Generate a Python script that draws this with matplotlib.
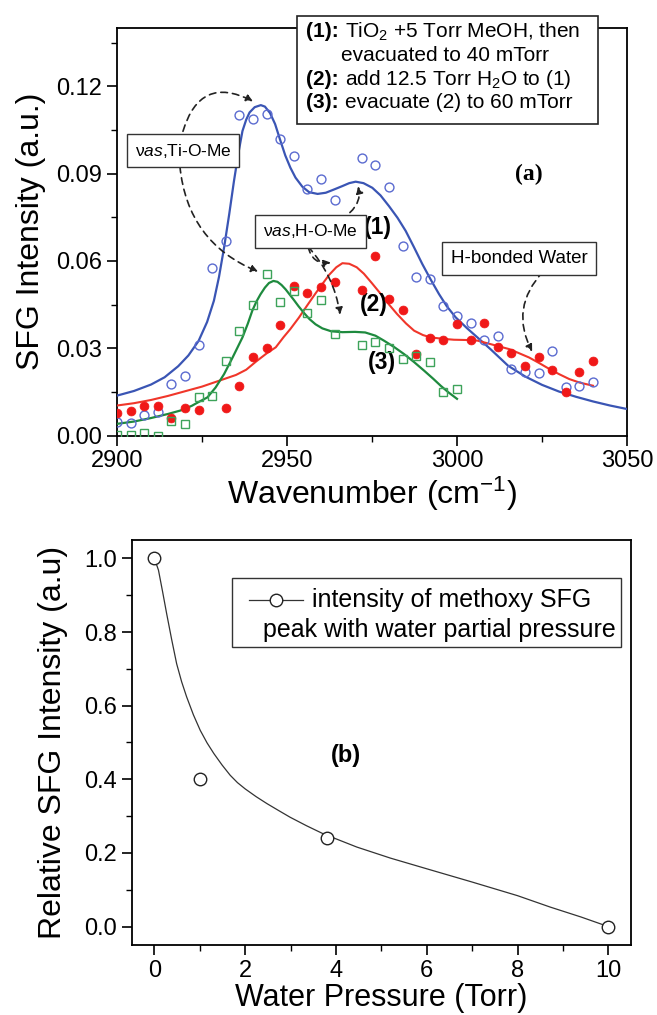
import matplotlib
matplotlib.use("Agg")
import matplotlib.pyplot as plt
from matplotlib.patches import Rectangle
from matplotlib.lines import Line2D
from matplotlib.ticker import MultipleLocator, FormatStrFormatter

plt.rcParams['font.family'] = ['Liberation Sans', 'DejaVu Sans']
plt.rcParams['mathtext.fontset'] = 'custom'
plt.rcParams['mathtext.rm'] = 'Liberation Sans'
plt.rcParams['mathtext.it'] = 'Liberation Sans:italic'
plt.rcParams['mathtext.bf'] = 'Liberation Sans:bold'

# ---- (a) SFG spectra: measured points ----
wn_1 = [2900, 2904, 2908, 2912, 2916, 2920, 2924, 2928, 2932, 2936, 2940, 2944,
        2948, 2952, 2956, 2960, 2964, 2972, 2976, 2980, 2984, 2988, 2992, 2996,
        3000, 3004, 3008, 3012, 3016, 3020, 3024, 3028, 3032, 3036, 3040]
sfg_1 = [0.0046, 0.0042, 0.0071, 0.0080, 0.0177, 0.0206, 0.0311, 0.0574, 0.0669,
         0.1100, 0.1088, 0.1106, 0.1017, 0.0960, 0.0848, 0.0880, 0.0808, 0.0952,
         0.0931, 0.0855, 0.0651, 0.0546, 0.0539, 0.0446, 0.0411, 0.0385, 0.0328,
         0.0343, 0.0229, 0.0217, 0.0215, 0.0289, 0.0168, 0.0171, 0.0185]

wn_2 = [2900, 2904, 2908, 2912, 2916, 2920, 2924, 2932, 2936, 2940, 2944, 2948,
        2952, 2956, 2960, 2964, 2972, 2976, 2980, 2984, 2988, 2992, 2996, 3000,
        3004, 3008, 3012, 3016, 3020, 3024, 3028, 3032, 3036, 3040]
sfg_2 = [0.0078, 0.0085, 0.0103, 0.0103, 0.0059, 0.0094, 0.0088, 0.0093, 0.0171,
         0.0270, 0.0300, 0.0380, 0.0515, 0.0490, 0.0510, 0.0528, 0.0499, 0.0617,
         0.0470, 0.0431, 0.0280, 0.0334, 0.0328, 0.0383, 0.0329, 0.0385, 0.0303,
         0.0283, 0.0240, 0.0271, 0.0226, 0.0151, 0.0217, 0.0255]

wn_3 = [2900, 2904, 2908, 2912, 2916, 2920, 2924, 2928, 2932, 2936, 2940, 2944,
        2948, 2952, 2956, 2960, 2964, 2972, 2976, 2980, 2984, 2988, 2992, 2996, 3000]
sfg_3 = [0.0003, 0.0003, 0.0009, 0.0000, 0.0049, 0.0038, 0.0131, 0.0135, 0.0255,
         0.0360, 0.0450, 0.0556, 0.0458, 0.0496, 0.0420, 0.0465, 0.0350, 0.0310,
         0.0322, 0.0301, 0.0263, 0.0274, 0.0251, 0.0148, 0.0160]

# ---- (a) fitted curves ----
fit_wn_1 = [2900, 2905, 2910, 2914, 2918, 2921, 2924, 2926.5, 2928.5, 2930, 2931.5,
            2933, 2934.4, 2935.7, 2936.9, 2938, 2939, 2940.5, 2942.3, 2943.5, 2945,
            2946.5, 2948, 2949.5, 2951, 2952.5, 2954.5, 2956.5, 2959, 2961.4, 2964,
            2966.3, 2968.3, 2970.2, 2972.5, 2975.1, 2977.5, 2980, 2982.5, 2984.9,
            2987.3, 2989.8, 2992.3, 2994.7, 2997, 2999.6, 3003, 3006, 3010, 3015,
            3020, 3025, 3030, 3035, 3040, 3045, 3050]
fit_1 = [0.0137, 0.0153, 0.0175, 0.0200, 0.0238, 0.0275, 0.0325, 0.0390, 0.0463, 0.0545,
         0.0646, 0.0760, 0.0874, 0.0970, 0.1046, 0.1085, 0.1110, 0.1128, 0.1135, 0.1130,
         0.1108, 0.1070, 0.1015, 0.0962, 0.0920, 0.0886, 0.0855, 0.0836, 0.0830, 0.0834,
         0.0846, 0.0857, 0.0867, 0.0872, 0.0867, 0.0851, 0.0825, 0.0788, 0.0748, 0.0703,
         0.0648, 0.0589, 0.0535, 0.0486, 0.0444, 0.0406, 0.0368, 0.0337, 0.0295, 0.0240,
         0.0203, 0.0174, 0.0151, 0.0133, 0.0117, 0.0103, 0.0091]

fit_wn_2 = [2900, 2905, 2910, 2915, 2920, 2925, 2930, 2935, 2938, 2941, 2944, 2946.7,
            2949, 2951, 2953.5, 2956, 2958.5, 2960.5, 2962.4, 2964.5, 2966.3, 2968.3,
            2970.5, 2972.6, 2975, 2977.6, 2980, 2982.4, 2985, 2987.4, 2990, 2992.3,
            2996, 2999.1, 3003, 3006, 3010.5, 3015.3, 3018, 3021.2, 3024, 3027.1,
            3030, 3033, 3036, 3040]
fit_2 = [0.0103, 0.0111, 0.0122, 0.0136, 0.0152, 0.0168, 0.0188, 0.0208, 0.0226, 0.0255,
         0.0282, 0.0303, 0.0338, 0.0366, 0.0405, 0.0448, 0.0490, 0.0522, 0.0552, 0.0578,
         0.0592, 0.0590, 0.0578, 0.0556, 0.0523, 0.0486, 0.0450, 0.0417, 0.0385, 0.0360,
         0.0345, 0.0337, 0.0332, 0.0329, 0.0328, 0.0326, 0.0312, 0.0297, 0.0284, 0.0268,
         0.0250, 0.0229, 0.0211, 0.0194, 0.0182, 0.0171]

fit_wn_3 = [2900, 2905, 2910, 2915, 2918.7, 2922, 2924, 2926.6, 2929, 2931.5, 2934,
            2936.9, 2938.5, 2939.8, 2941, 2942.2, 2943.5, 2944.7, 2946, 2947.2, 2948.4,
            2949.6, 2950.8, 2952, 2953.4, 2955, 2956.6, 2958.4, 2960.4, 2963, 2966.3,
            2970, 2973, 2976, 2978.5, 2981.5, 2984.4, 2987.4, 2990.3, 2993, 2995.2,
            2997.5, 3000]
fit_3 = [0.0040, 0.0048, 0.0060, 0.0074, 0.0086, 0.0102, 0.0115, 0.0131, 0.0165, 0.0211,
         0.0268, 0.0337, 0.0385, 0.0429, 0.0460, 0.0485, 0.0508, 0.0524, 0.0531, 0.0528,
         0.0517, 0.0502, 0.0484, 0.0466, 0.0444, 0.0421, 0.0400, 0.0382, 0.0368, 0.0358,
         0.0355, 0.0356, 0.0354, 0.0343, 0.0326, 0.0304, 0.0280, 0.0252, 0.0223, 0.0195,
         0.0171, 0.0148, 0.0126]

# ---- (b) relative intensity vs water pressure ----
pressure = [0, 1, 3.8, 10]
rel_int = [1.0, 0.40, 0.24, 0.0]
fit_p = [0, 0.09, 0.18, 0.27, 0.38, 0.49, 0.6, 0.71, 0.86, 1.01, 1.16, 1.31, 1.49,
         1.67, 1.83, 2.0, 2.24, 2.48, 2.74, 2.99, 3.35, 3.72, 4.09, 4.46, 5.2, 6.0,
         7.0, 8.0, 8.72, 9.4, 10]
fit_rel = [1.0, 0.968, 0.91, 0.850, 0.78, 0.714, 0.665, 0.624, 0.575, 0.533, 0.499,
           0.470, 0.439, 0.411, 0.391, 0.374, 0.353, 0.334, 0.315, 0.297, 0.274, 0.252,
           0.234, 0.216, 0.186, 0.157, 0.121, 0.084, 0.053, 0.026, 0.0]

W, H = 657, 1015
fig = plt.figure(figsize=(W / 100, H / 100), dpi=100)

def fx(px):
    return px / W

def fy(py):
    return 1 - py / H

ax1 = fig.add_axes([fx(117), fy(435.5), 510 / W, 407.5 / H])
ax2 = fig.add_axes([fx(131.7), fy(945), 499.3 / W, 405 / H])

blue_l, blue_p = '#3a55b4', '#5b6bd0'
red_l, red_p = '#f0362a', '#f01818'
green_l, green_p = '#1e8a3e', '#3da35a'

ax1.plot(fit_wn_1, fit_1, color=blue_l, lw=1.6, zorder=3)
ax1.plot(fit_wn_2, fit_2, color=red_l, lw=1.5, zorder=3)
ax1.plot(fit_wn_3, fit_3, color=green_l, lw=1.6, zorder=3)
ax1.plot(wn_1, sfg_1, 'o', mfc='none', mec=blue_p, ms=6.4, mew=1.0, zorder=4)
ax1.plot(wn_2, sfg_2, 'o', mfc=red_p, mec=red_p, ms=6.4, mew=0.5, zorder=4)
ax1.plot(wn_3, sfg_3, 's', mfc='none', mec=green_p, ms=5.8, mew=1.0, zorder=4)

ax1.set_xlim(2900, 3050)
ax1.set_ylim(0, 0.14)
ax1.xaxis.set_major_locator(MultipleLocator(50))
ax1.xaxis.set_minor_locator(MultipleLocator(25))
ax1.yaxis.set_major_locator(MultipleLocator(0.03))
ax1.yaxis.set_minor_locator(MultipleLocator(0.015))
ax1.yaxis.set_major_formatter(FormatStrFormatter('%.2f'))
ax1.set_yticks([0, 0.03, 0.06, 0.09, 0.12])

ax1.set_xlabel('Wavenumber (cm$^{-1}$)', fontsize=23)
ax1.set_ylabel('SFG Intensity (a.u.)', fontsize=23)
ax1.xaxis.set_label_coords(0.5, -0.095)
ax1.yaxis.set_label_coords(-0.14, 0.5)

# annotation boxes
box = dict(boxstyle='square,pad=0.45', fc='white', ec='#333333', lw=1.0)
ax1.text(2919.4, 0.0979, r'ν$\mathit{as}$,Ti-O-Me', fontsize=12.5, ha='center',
         va='center', bbox=box, zorder=6)
ax1.text(2956.9, 0.0701, r'ν$\mathit{as}$,H-O-Me', fontsize=12.5, ha='center',
         va='center', bbox=box, zorder=6)
ax1.text(3018.2, 0.0608, 'H-bonded Water', fontsize=13.5, ha='center',
         va='center', bbox=box, zorder=6)

arrows = [((2919.4, 0.1045), (2940.0, 0.1148), -0.6),
          ((2918.5, 0.0925), (2941.5, 0.0563), 0.3),
          ((2968.5, 0.0766), (2970.9, 0.0856), 0.3),
          ((2956.2, 0.0649), (2962.9, 0.0594), 0.45),
          ((2956.2, 0.0649), (2965.6, 0.0415), -0.15),
          ((3025.3, 0.0563), (3022.1, 0.0288), 0.35)]
for start, end, rad in arrows:
    ax1.annotate('', xy=end, xytext=start, zorder=5,
                 arrowprops=dict(arrowstyle='-|>', connectionstyle='arc3,rad=%s' % rad,
                                 linestyle=(0, (4, 3)), lw=1.2, color='#222222',
                                 shrinkA=0, shrinkB=0, mutation_scale=10))

ax1.text(2976.8, 0.0716, '(1)', fontsize=16.5, fontweight='bold', ha='center', va='center')
ax1.text(2975.6, 0.0450, '(2)', fontsize=16.5, fontweight='bold', ha='center', va='center')
ax1.text(2977.9, 0.0251, '(3)', fontsize=16.5, fontweight='bold', ha='center', va='center')
ax1.text(3021.2, 0.0898, '(a)', fontsize=17, fontweight='bold', ha='center', va='center',
         family='Liberation Serif')

# legend box of (a), sits over the top frame
fig.add_artist(Rectangle((fx(297), fy(124)), 301 / W, 108 / H, transform=fig.transFigure,
                         fc='white', ec='#222222', lw=1.2, zorder=10))
legend_bold = [(306, 31.5, '(1):'), (306, 79.0, '(2):'), (306, 102.0, '(3):')]
legend_rest = [(345, 31.5, 'TiO$_2$ +5 Torr MeOH, then'),
               (341, 55.5, 'evacuated to 40 mTorr'),
               (345, 79.0, 'add 12.5 Torr H$_2$O to (1)'),
               (345, 102.0, 'evacuate (2) to 60 mTorr')]
for x, y, s in legend_bold:
    fig.text(fx(x), fy(y), s, fontsize=15, fontweight='bold', ha='left', va='center',
             zorder=11)
for x, y, s in legend_rest:
    fig.text(fx(x), fy(y), s, fontsize=15, ha='left', va='center', zorder=11)

# ---- (b) ----
ax2.plot(fit_p, fit_rel, color='#333333', lw=0.9, zorder=3)
ax2.plot(pressure, rel_int, 'o', mfc='white', mec='#222222', ms=9, mew=1.0,
         clip_on=False, zorder=4)
ax2.set_xlim(-0.5, 10.5)
ax2.set_ylim(-0.05, 1.05)
ax2.xaxis.set_major_locator(MultipleLocator(2))
ax2.xaxis.set_minor_locator(MultipleLocator(1))
ax2.yaxis.set_major_locator(MultipleLocator(0.2))
ax2.yaxis.set_minor_locator(MultipleLocator(0.1))
ax2.yaxis.set_major_formatter(FormatStrFormatter('%.1f'))
ax2.set_xticks([0, 2, 4, 6, 8, 10])
ax2.set_yticks([0, 0.2, 0.4, 0.6, 0.8, 1.0])
ax2.set_xlabel('Water Pressure (Torr)', fontsize=22)
ax2.set_ylabel('Relative SFG Intensity (a.u)', fontsize=23)
ax2.xaxis.set_label_coords(0.5, -0.094)
ax2.yaxis.set_label_coords(-0.128, 0.5)
ax2.text(4.21, 0.465, '(b)', fontsize=17, fontweight='bold', ha='center', va='center')

# legend of (b)
fig.add_artist(Rectangle((fx(231.7), fy(647)), (620.5 - 231.7) / W, 69 / H,
                         transform=fig.transFigure, fc='white', ec='#333333', lw=1.0,
                         zorder=10))
fig.add_artist(Line2D([fx(249), fx(303)], [fy(600), fy(600)], color='#333333', lw=0.9,
                      transform=fig.transFigure, zorder=11))
fig.add_artist(Line2D([fx(276)], [fy(600)], marker='o', mfc='white', mec='#222222', ms=9,
                      mew=1.0, transform=fig.transFigure, zorder=12))
fig.text(fx(311.7), fy(600), 'intensity of methoxy SFG', fontsize=18, ha='left',
         va='center', zorder=12)
fig.text(fx(263), fy(630), 'peak with water partial pressure', fontsize=18, ha='left',
         va='center', zorder=12)

for ax in (ax1, ax2):
    for sp in ax.spines.values():
        sp.set_linewidth(1.3)
    ax.tick_params(which='major', direction='out', length=7, width=1.2, labelsize=17,
                   top=False, right=False)
    ax.tick_params(which='minor', direction='out', length=4, width=1.0,
                   top=False, right=False)

fig.savefig('out.png', dpi=100)
